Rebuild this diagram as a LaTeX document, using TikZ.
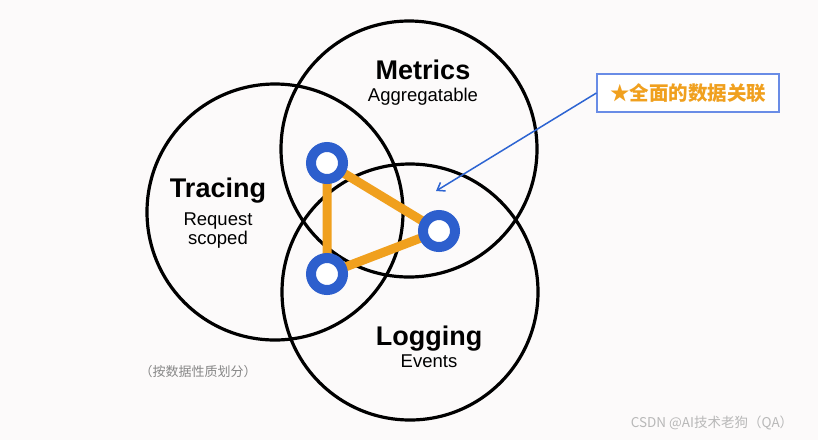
\documentclass[tikz,border=0pt]{standalone}
\usepackage{fontspec}
\setmainfont{Liberation Sans}
\newfontfamily\cjk{Noto Sans CJK SC}
\usetikzlibrary{positioning,arrows.meta}
\definecolor{bgpaper}{RGB}{252,250,250}
\definecolor{ringblue}{RGB}{45,95,205}
\definecolor{linkorange}{RGB}{240,160,30}
\definecolor{callblue}{RGB}{105,140,230}
\definecolor{arrowblue}{RGB}{45,100,210}
\definecolor{notegray}{RGB}{135,135,135}
\tikzset{
  setcircle/.style={circle, draw=black, line width=3.2pt, minimum size=256pt, inner sep=0pt},
  titletext/.style={font=\fontsize{27}{30}\selectfont\bfseries, anchor=base, inner sep=0pt},
  subtext/.style={font=\fontsize{18.5}{21}\selectfont, anchor=base, inner sep=0pt},
  ringnode/.style={circle, draw=ringblue, fill=white, line width=10pt, minimum size=32pt, inner sep=0pt},
  linkline/.style={draw=linkorange, line width=9pt},
  callbox/.style={draw=callblue, line width=1.2pt, fill=white, minimum width=182pt, minimum height=38pt,
                  inner sep=0pt, font=\cjk\fontsize{19.5}{22}\selectfont\bfseries, text=linkorange},
  callarrow/.style={-{Straight Barb[length=7pt,width=10pt]}, arrowblue, line width=1.5pt}
}
\begin{document}
\begin{tikzpicture}[x=1pt,y=-1pt]
  % paper
  \fill[bgpaper] (0,0) rectangle (818,440);
  \useasboundingbox (0,0) rectangle (818,440);

  %% the three sets
  \node[setcircle] (tracing) at (275,212) {};
  \node[setcircle] (metrics) at (409,149) {};
  \node[setcircle] (logging) at (410,292) {};

  % set titles
  \node[titletext] (metricslbl) at (423,79) {Metrics};
  \node[subtext]   (metricssub) at (423,101) {Aggregatable};
  \node[titletext] (tracinglbl) at (218,197) {Tracing};
  \node[subtext]   (tracingsuba) at (218,225) {Request};
  \node[subtext]   (tracingsubb) at (218,244) {scoped};
  \node[titletext] (logginglbl) at (429,345) {Logging};
  \node[subtext]   (loggingsub) at (429,367) {Events};

  %% correlation triangle
  \coordinate (ra) at (327,163);
  \coordinate (rb) at (439,231);
  \coordinate (rc) at (327,274);
  \draw[linkline] (ra) -- (rb) -- (rc) -- cycle;
  \foreach \r in {ra,rb,rc}
    \node[ringnode] (ring\r) at (\r) {};

  %% callout
  \node[callbox] (callout) at (688,93) {★全面的数据关联};
  \coordinate (calltip) at (436,191);
  \draw[callarrow] (callout.west) -- (calltip);

  % notes
  \node[font=\cjk\fontsize{13}{15}\selectfont, text=notegray] (note) at (198,372) {（按数据性质划分）};
  \node[font=\cjk\fontsize{13.5}{15}\selectfont, text=black!28] (mark) at (712,423) {CSDN @AI技术老狗（QA）};
\end{tikzpicture}
\end{document}
